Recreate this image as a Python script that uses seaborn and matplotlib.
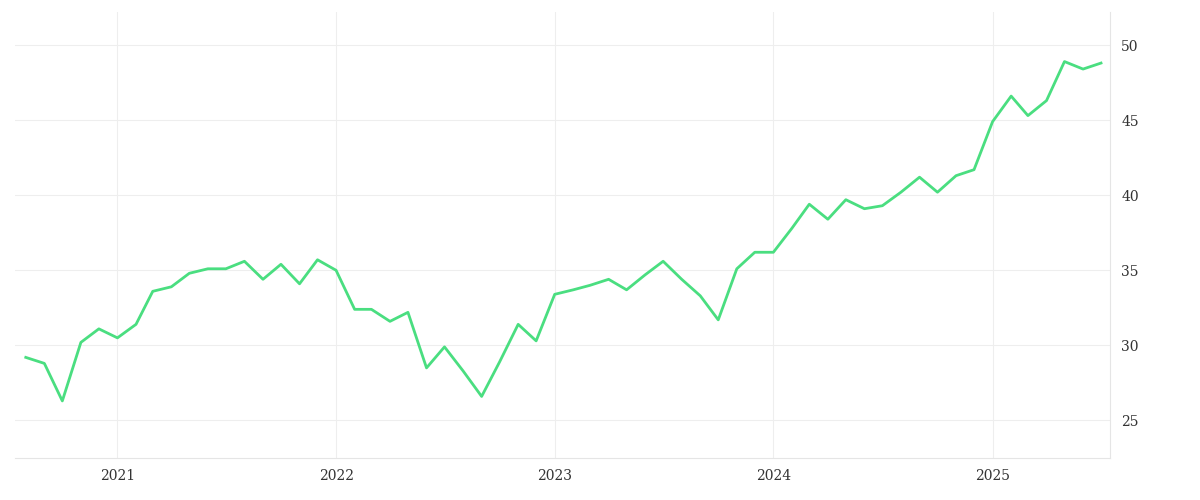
import matplotlib
matplotlib.use("Agg")
import matplotlib.pyplot as plt
import seaborn as sns
import pandas as pd
import matplotlib.dates as mdates

dates = pd.date_range("2020-08-01", "2025-07-01", freq="MS")
values = [29.2, 28.8, 26.3, 30.2, 31.1, 30.5, 31.4, 33.6, 33.9, 34.8, 35.1, 35.1,
          35.6, 34.4, 35.4, 34.1, 35.7, 35.0, 32.4, 32.4, 31.6, 32.2, 28.5, 29.9,
          28.3, 26.6, 28.9, 31.4, 30.3, 33.4, 33.7, 34.0, 34.4, 33.7, 34.7, 35.6,
          34.4, 33.3, 31.7, 35.1, 36.2, 36.2, 37.8, 39.4, 38.4, 39.7, 39.1, 39.3,
          40.2, 41.2, 40.2, 41.3, 41.7, 44.9, 46.6, 45.3, 46.3, 48.9, 48.4, 48.8]
year_ticks = ["2021", "2022", "2023", "2024", "2025"]

df = pd.DataFrame({"date": dates, "value": values})
fig = plt.figure(figsize=(12, 5), dpi=100)
ax = fig.add_axes([0.0125, 0.084, 0.9125, 0.892])
sns.lineplot(data=df, x="date", y="value", ax=ax, color="#4ade80", linewidth=2)
ax.set_xlim(pd.Timestamp("2020-07-14"), pd.Timestamp("2025-07-16"))
ax.set_ylim(22.5, 52.2)
ax.set_yticks([25, 30, 35, 40, 45, 50])
ax.set_xticks([pd.Timestamp(f"{y}-01-01") for y in year_ticks])
ax.xaxis.set_major_formatter(mdates.DateFormatter("%Y"))
ax.yaxis.tick_right()
ax.grid(True, color="#eeeeee", linewidth=0.8)
for s in ["top", "left"]:
    ax.spines[s].set_visible(False)
for s in ["bottom", "right"]:
    ax.spines[s].set_color("#e5e5e5")
ax.tick_params(length=0, pad=8, labelsize=10, labelcolor="#333333")
for lab in ax.get_xticklabels() + ax.get_yticklabels():
    lab.set_fontfamily("DejaVu Serif")
ax.set_xlabel("")
ax.set_ylabel("")
fig.savefig("out.png", dpi=100)
